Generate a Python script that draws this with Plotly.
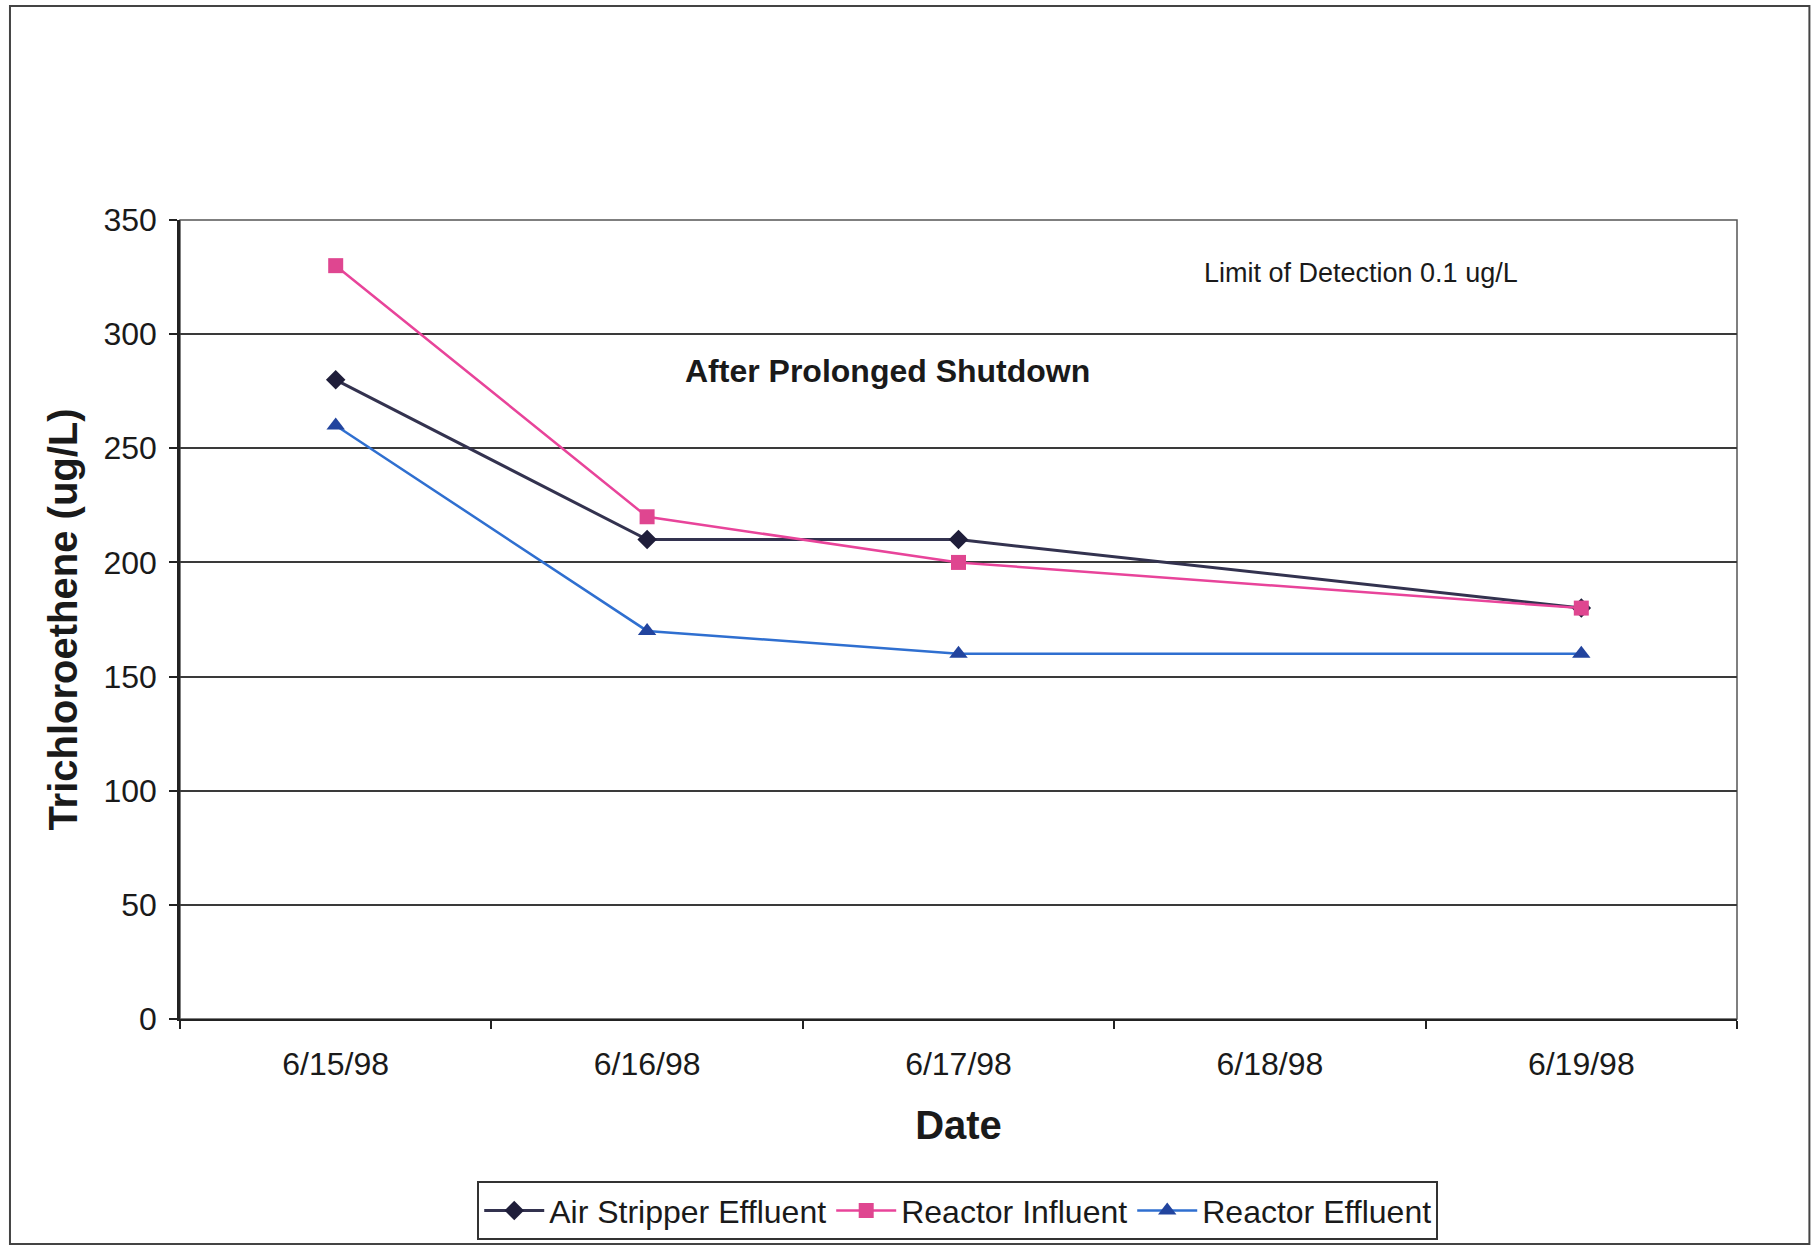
import plotly.graph_objects as go

# Sampling dates shown on the category axis (6/18/98 has no samples)
dates = ["6/15/98", "6/16/98", "6/17/98", "6/18/98", "6/19/98"]
sample_dates = ["6/15/98", "6/16/98", "6/17/98", "6/19/98"]

# Trichloroethene concentrations (ug/L)
air_stripper_effluent = [280, 210, 210, 180]
reactor_influent = [330, 220, 200, 180]
reactor_effluent = [260, 170, 160, 160]

y_ticks = [0, 50, 100, 150, 200, 250, 300, 350]

FONT = "Liberation Sans, Arial, sans-serif"

fig = go.Figure()

fig.add_trace(go.Scatter(
    x=sample_dates, y=air_stripper_effluent, name="Air Stripper Effluent",
    mode="lines+markers",
    line=dict(color="#33324f", width=3),
    marker=dict(symbol="diamond", size=15, color="#1f1e3a"),
))
fig.add_trace(go.Scatter(
    x=sample_dates, y=reactor_influent, name="Reactor Influent",
    mode="lines+markers",
    line=dict(color="#e8449a", width=2.5),
    marker=dict(symbol="square", size=15, color="#df4690"),
))
fig.add_trace(go.Scatter(
    x=sample_dates, y=reactor_effluent, name="Reactor Effluent",
    mode="lines+markers",
    line=dict(color="#2f6fd0", width=2.5),
    marker=dict(symbol="triangle-up", size=16, color="#22449e"),
))

fig.update_layout(
    width=1816, height=1246,
    margin=dict(l=180, r=79, t=220, b=227, autoexpand=False),
    paper_bgcolor="white",
    plot_bgcolor="white",
    font=dict(family=FONT, color="#1a1a1a"),
    showlegend=True,
    legend=dict(
        orientation="h",
        x=0.4995, xanchor="center",
        y=-0.203, yanchor="top",
        bordercolor="#333333", borderwidth=2,
        font=dict(size=32, family=FONT, color="#1a1a1a"),
        itemwidth=60,
        tracegroupgap=0,
    ),
    xaxis=dict(
        type="category",
        categoryorder="array", categoryarray=dates,
        range=[-0.5, len(dates) - 0.5],
        tickmode="array", tickvals=dates, ticktext=dates,
        tickson="boundaries",
        ticks="outside", ticklen=8, tickcolor="#222222", tickwidth=1.5,
        ticklabelstandoff=16,
        tickfont=dict(size=32, family=FONT, color="#1a1a1a"),
        showline=True, linecolor="#222222", linewidth=2,
        mirror=False,
        showgrid=False,
        automargin=False,
        title=dict(text="<b>Date</b>", font=dict(size=40, family=FONT, color="#1a1a1a"),
                   standoff=30),
        zeroline=False,
    ),
    yaxis=dict(
        range=[0, 350],
        tickmode="array", tickvals=y_ticks,
        ticks="outside", ticklen=8, tickcolor="#222222", tickwidth=1.5,
        ticklabelstandoff=6,
        tickfont=dict(size=32, family=FONT, color="#1a1a1a"),
        showline=True, linecolor="#222222", linewidth=2.5,
        showgrid=True, gridcolor="#3a3a3a", gridwidth=1.5,
        zeroline=False,
        automargin=False,
        title=dict(text="<b>Trichloroethene (ug/L)</b>",
                   font=dict(size=40, family=FONT, color="#1a1a1a"),
                   standoff=14),
    ),
)

# Plot-area border (top and right edges) and outer chart frame
fig.add_shape(type="rect", xref="paper", yref="paper", x0=0, x1=1, y0=0, y1=1,
              line=dict(color="#555555", width=1.5), layer="below")
fig.add_shape(type="rect", xref="paper", yref="paper",
              x0=-0.1092, x1=1.0465, y0=-0.2816, y1=1.2678,
              line=dict(color="#444444", width=2))

fig.add_annotation(
    x="6/17/98", y=284, xref="x", yref="y", xshift=-71,
    text="<b>After Prolonged Shutdown</b>", showarrow=False,
    font=dict(size=32, family=FONT, color="#1a1a1a"),
)
fig.add_annotation(
    x="6/18/98", y=327, xref="x", yref="y", xshift=91,
    text="Limit of Detection 0.1 ug/L", showarrow=False,
    font=dict(size=27, family=FONT, color="#1a1a1a"),
)

fig.write_html("out.html")
